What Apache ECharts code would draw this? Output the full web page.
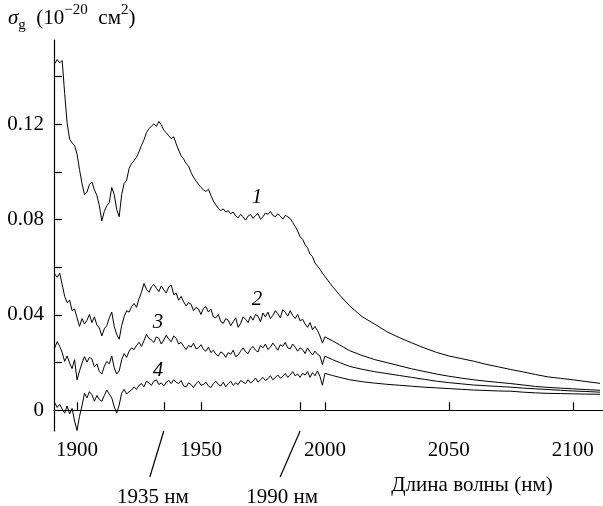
<!DOCTYPE html>
<html><head><meta charset="utf-8">
<script src="https://cdn.jsdelivr.net/npm/echarts@6/dist/echarts.min.js"></script>
<style>html,body{margin:0;padding:0;background:#fff}#c{width:603px;height:506px}</style>
</head><body><div id="c"></div><script>
// ---------- data ----------
const wlNoisy = [1891,1892,1893,1894,1895,1896,1897,1898,1899,1900,
1901,1902,1903,1904,1905,1906,1907,1908,1909,1910,
1911,1912,1913,1914,1915,1916,1917,1918,1919,1920,
1921,1922,1923,1924,1925,1926,1927,1928,1929,1930,
1931,1932,1933,1934,1935,1936,1937,1938,1939,1940,
1941,1942,1943,1944,1945,1946,1947,1948,1949,1950,
1951,1952,1953,1954,1955,1956,1957,1958,1959,1960,
1961,1962,1963,1964,1965,1966,1967,1968,1969,1970,
1971,1972,1973,1974,1975,1976,1977,1978,1979,1980,
1981,1982,1983,1984,1985,1986,1987,1988,1989,1990,
1991,1992,1993,1994,1995,1996,1997,1998,1999];
const wlTail = [2000,2003,2006,2010,2015,2020,2025,2030,2035,2040,2045,2050,2055,2060,2065,2070,2075,2080,2085,2090,2095,2100,2105,2111];

const curve1Noisy = [0.1455,0.1472,0.1458,0.1468,0.1330,0.1205,0.1138,0.1122,0.1112,0.1075,
0.1010,0.0952,0.0905,0.0915,0.0948,0.0958,0.0925,0.0902,0.0858,0.0795,
0.0835,0.0858,0.0872,0.0935,0.0905,0.0842,0.0812,0.0905,0.0952,0.0965,
0.1015,0.1035,0.1048,0.1062,0.1085,0.1112,0.1135,0.1165,0.1182,0.1192,
0.1202,0.1192,0.1212,0.1198,0.1175,0.1165,0.1152,0.1140,0.1148,0.1118,
0.1092,0.1068,0.1055,0.1035,0.1025,0.0998,0.0978,0.0962,0.0948,0.0935,
0.0925,0.0918,0.0928,0.0902,0.0878,0.0862,0.0848,0.0838,0.0845,0.0832,
0.0838,0.0825,0.0832,0.0815,0.0808,0.0822,0.0812,0.0798,0.0815,0.0822,
0.0805,0.0818,0.0825,0.0802,0.0812,0.0828,0.0822,0.0835,0.0818,0.0812,
0.0825,0.0815,0.0802,0.0818,0.0812,0.0805,0.0788,0.0772,0.0752,0.0728,
0.0718,0.0695,0.0682,0.0655,0.0645,0.0618,0.0605,0.0592,0.0575];
const curve1Tail = [0.0562,0.0520,0.0483,0.0438,0.0393,0.0362,0.0330,0.0305,0.0283,0.0262,0.0243,0.0228,0.0217,0.0206,0.0193,0.0182,0.0171,0.0161,0.0150,0.0140,0.0134,0.0128,0.0121,0.0113];

const curve2Noisy = [0.0572,0.0558,0.0575,0.0528,0.0478,0.0452,0.0462,0.0418,0.0425,0.0388,
0.0352,0.0385,0.0362,0.0378,0.0402,0.0368,0.0392,0.0358,0.0345,0.0312,
0.0342,0.0355,0.0388,0.0412,0.0352,0.0318,0.0298,0.0355,0.0392,0.0418,
0.0412,0.0435,0.0448,0.0432,0.0468,0.0495,0.0532,0.0508,0.0495,0.0518,
0.0528,0.0512,0.0498,0.0522,0.0505,0.0492,0.0518,0.0525,0.0485,0.0492,
0.0462,0.0478,0.0455,0.0438,0.0452,0.0445,0.0418,0.0432,0.0425,0.0402,
0.0428,0.0435,0.0412,0.0425,0.0392,0.0388,0.0402,0.0372,0.0365,0.0385,
0.0378,0.0355,0.0372,0.0388,0.0348,0.0365,0.0392,0.0382,0.0368,0.0395,
0.0378,0.0402,0.0395,0.0372,0.0408,0.0392,0.0412,0.0385,0.0398,0.0418,
0.0405,0.0388,0.0422,0.0412,0.0395,0.0418,0.0398,0.0385,0.0402,0.0375,
0.0382,0.0362,0.0348,0.0368,0.0338,0.0352,0.0335,0.0312,0.0282];
const curve2Tail = [0.0308,0.0292,0.0274,0.0250,0.0230,0.0213,0.0200,0.0187,0.0174,0.0163,0.0152,0.0143,0.0135,0.0128,0.0122,0.0117,0.0112,0.0106,0.0100,0.0096,0.0093,0.0090,0.0087,0.0084];

const curve3Noisy = [0.0262,0.0288,0.0268,0.0242,0.0205,0.0228,0.0198,0.0175,0.0212,0.0128,
0.0165,0.0198,0.0225,0.0202,0.0222,0.0215,0.0182,0.0195,0.0162,0.0152,
0.0185,0.0205,0.0195,0.0228,0.0178,0.0152,0.0165,0.0212,0.0238,0.0222,
0.0248,0.0262,0.0255,0.0272,0.0285,0.0268,0.0292,0.0318,0.0302,0.0295,
0.0285,0.0308,0.0302,0.0278,0.0295,0.0315,0.0298,0.0288,0.0312,0.0302,
0.0278,0.0285,0.0268,0.0255,0.0272,0.0265,0.0282,0.0258,0.0262,0.0275,
0.0255,0.0248,0.0265,0.0242,0.0252,0.0235,0.0228,0.0245,0.0238,0.0222,
0.0242,0.0235,0.0252,0.0225,0.0232,0.0248,0.0262,0.0245,0.0238,0.0258,
0.0268,0.0252,0.0245,0.0272,0.0262,0.0278,0.0255,0.0265,0.0282,0.0268,
0.0252,0.0275,0.0268,0.0285,0.0262,0.0258,0.0278,0.0265,0.0248,0.0262,
0.0255,0.0238,0.0262,0.0245,0.0232,0.0248,0.0235,0.0228,0.0192];
const curve3Tail = [0.0227,0.0213,0.0200,0.0184,0.0172,0.0162,0.0154,0.0146,0.0138,0.0130,0.0122,0.0116,0.0111,0.0106,0.0103,0.0100,0.0097,0.0093,0.0090,0.0087,0.0084,0.0081,0.0079,0.0076];

const curve4Noisy = [0.0032,0.0012,0.0025,0.0005,-0.0012,0.0018,-0.0015,0.0008,-0.0045,-0.0085,
-0.0025,0.0018,0.0072,0.0052,0.0078,0.0065,0.0038,0.0062,0.0045,0.0038,
0.0062,0.0085,0.0068,0.0052,0.0015,-0.0012,0.0022,0.0072,0.0088,0.0068,
0.0078,0.0085,0.0098,0.0088,0.0105,0.0112,0.0098,0.0122,0.0115,0.0105,
0.0122,0.0128,0.0108,0.0115,0.0102,0.0118,0.0125,0.0112,0.0128,0.0118,
0.0112,0.0125,0.0102,0.0098,0.0115,0.0108,0.0095,0.0112,0.0122,0.0105,
0.0108,0.0118,0.0102,0.0095,0.0112,0.0122,0.0108,0.0102,0.0118,0.0098,
0.0112,0.0122,0.0105,0.0115,0.0108,0.0125,0.0118,0.0112,0.0128,0.0115,
0.0122,0.0135,0.0118,0.0128,0.0138,0.0125,0.0132,0.0145,0.0128,0.0138,
0.0148,0.0135,0.0142,0.0155,0.0138,0.0148,0.0162,0.0145,0.0152,0.0138,
0.0155,0.0148,0.0162,0.0138,0.0158,0.0145,0.0165,0.0142,0.0105];
const curve4Tail = [0.0155,0.0146,0.0138,0.0128,0.0120,0.0114,0.0109,0.0105,0.0101,0.0097,0.0094,0.0091,0.0088,0.0085,0.0083,0.0081,0.0080,0.0076,0.0073,0.0071,0.0070,0.0069,0.0068,0.0067];

const xTickValues = [1900, 1950, 2000, 2050, 2100];
const markedWavelengths = [1935, 1990];
const markedLabels = ['1935 нм', '1990 нм'];
const yTickValues = [0, 0.02, 0.04, 0.06, 0.08, 0.10, 0.12, 0.14];
const yLabelValues = [0, 0.04, 0.08, 0.12];
const curveNames = ['1', '2', '3', '4'];
const curveLabelAt = [[1972.6, 0.0895], [1972.6, 0.0466], [1932.7, 0.0370], [1932.7, 0.0168]];

// ---------- chart ----------
const FONT = '"Liberation Serif", "Times New Roman", serif';
const X_MIN = 1890.7, X_MAX = 2112.2, Y_MIN = -0.0087, Y_MAX = 0.1554;
function pairs(xs, ys) { return xs.map((x, i) => [x, ys[i]]); }
const curves = [[curve1Noisy, curve1Tail], [curve2Noisy, curve2Tail], [curve3Noisy, curve3Tail], [curve4Noisy, curve4Tail]];

const chart = echarts.init(document.getElementById('c'), null, { renderer: 'canvas' });
chart.setOption({
  animation: false,
  backgroundColor: '#fff',
  grid: { left: 54, right: 0, top: 40, bottom: 75 },
  xAxis: {
    type: 'value', min: X_MIN, max: X_MAX,
    axisLine: { lineStyle: { color: '#000', width: 1.2 } },
    axisTick: { inside: true, length: 8, customValues: xTickValues.concat(markedWavelengths), lineStyle: { color: '#000', width: 1.2 } },
    axisLabel: { customValues: xTickValues, fontFamily: FONT, fontSize: 21, color: '#000', margin: 9,
      formatter: v => String(Math.round(v)) },
    splitLine: { show: false }
  },
  yAxis: {
    type: 'value', min: Y_MIN, max: Y_MAX,
    axisLine: { show: true, lineStyle: { color: '#000', width: 1.2 } },
    axisTick: { show: true, inside: true, length: 8, customValues: yTickValues, lineStyle: { color: '#000', width: 1.2 } },
    axisLabel: { customValues: yLabelValues, fontFamily: FONT, fontSize: 21, color: '#000', margin: 10,
      formatter: v => (Math.abs(v) < 1e-9 ? '0' : v.toFixed(2)) },
    splitLine: { show: false }
  },
  series: curves.map((c, i) => ({
    type: 'line', name: curveNames[i], symbol: 'none', silent: true,
    lineStyle: { color: '#000', width: 1 },
    data: pairs(wlNoisy, c[0]).concat(pairs(wlTail, c[1]))
  }))
});

// annotations positioned through the axes
const axisY = chart.convertToPixel({ yAxisIndex: 0 }, Y_MIN);
const gfx = [];
markedWavelengths.forEach((w, i) => {
  const px = chart.convertToPixel({ xAxisIndex: 0 }, w);
  const dx = i === 0 ? -14 : -20;
  gfx.push({ type: 'line', shape: { x1: px, y1: axisY, x2: px + dx, y2: axisY + 46 }, style: { stroke: '#000', lineWidth: 1.2 } });
  gfx.push({ type: 'text', x: px + (i === 0 ? -11 : -18), y: axisY + 66,
    style: { text: markedLabels[i], font: '21px ' + FONT, fill: '#000', align: 'center', verticalAlign: 'middle' } });
});
curveLabelAt.forEach((p, i) => {
  const pt = chart.convertToPixel({ gridIndex: 0 }, p);
  gfx.push({ type: 'text', x: pt[0], y: pt[1],
    style: { text: curveNames[i], font: 'italic 21px ' + FONT, fill: '#000', align: 'center', verticalAlign: 'middle' } });
});
gfx.push({ type: 'text', x: 472, y: 485,
  style: { text: 'Длина волны (нм)', font: '21px ' + FONT, fill: '#000', align: 'center', verticalAlign: 'middle' } });
gfx.push({ type: 'text', x: 8, y: 3,
  style: {
    text: '{s|σ}{sub|g}{n|  (10}{sup|−20}{n|  см}{sup|2}{n|)}',
    fill: '#000',
    rich: {
      s: { fontFamily: FONT, fontStyle: 'italic', fontSize: 21, lineHeight: 30, fill: '#000' },
      n: { fontFamily: FONT, fontSize: 21, lineHeight: 30, fill: '#000' },
      sup: { fontFamily: FONT, fontSize: 15, lineHeight: 15, verticalAlign: 'top', fill: '#000' },
      sub: { fontFamily: FONT, fontSize: 15, lineHeight: 15, verticalAlign: 'bottom', fill: '#000' }
    }
  } });
chart.setOption({ graphic: gfx });
</script></body></html>
